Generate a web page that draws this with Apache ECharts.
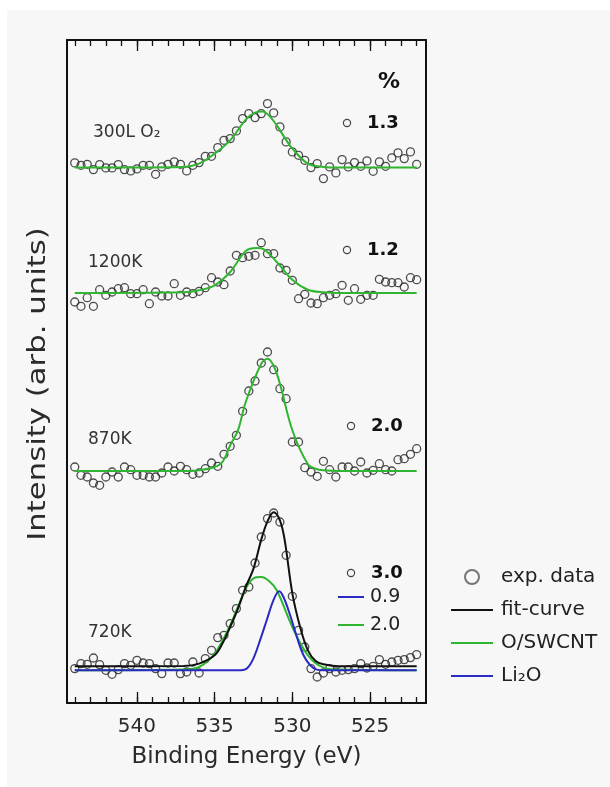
<!DOCTYPE html>
<html>
<head>
<meta charset="utf-8">
<script src="https://cdn.jsdelivr.net/npm/echarts@6.0.0/dist/echarts.min.js"></script>
<style>
  html, body { margin: 0; padding: 0; background: #fff; overflow: hidden; }
  #panel { position: fixed; left: 7px; top: 10px; right: -50px; bottom: -50px; background: #f7f7f7; }
  #chart { position: absolute; left: 0; top: 0; width: 610px; height: 787px; }
</style>
</head>
<body>
<div id="panel"></div>
<div id="chart"></div>
<script>
// binding energy of each measured point (eV)
const energies = [544.0, 543.6, 543.2, 542.8, 542.4, 542.0, 541.6, 541.2, 540.8, 540.4,
  540.0, 539.6, 539.2, 538.8, 538.4, 538.0, 537.6, 537.2, 536.8, 536.4,
  536.0, 535.6, 535.2, 534.8, 534.4, 534.0, 533.6, 533.2, 532.8, 532.4,
  532.0, 531.6, 531.2, 530.8, 530.4, 530.0, 529.6, 529.2, 528.8, 528.4,
  528.0, 527.6, 527.2, 526.8, 526.4, 526.0, 525.6, 525.2, 524.8, 524.4,
  524.0, 523.6, 523.2, 522.8, 522.4, 522.0];

// measured intensities, relative to each spectrum's baseline
const exp300L = [4.7, 2.3, 3.3, -2, 3, -0.3, -0.3, 3, -2, -3.3,
  -1.3, 2.3, 2.3, -6.7, 0.7, 3.3, 5.7, 3.3, -3.3, 2.3,
  5, 11.3, 11.3, 20, 27.3, 29, 36.7, 49, 54, 50,
  54, 64, 54.7, 40.7, 25.7, 15.7, 12.3, 7.3, 0, 4,
  -11, 0.7, -5.3, 8, 0.7, 5, 1.3, 6.7, -3.7, 5.7,
  1.3, 9.7, 14.7, 9, 15.7, 3.3];
const exp1200K = [-9, -13.3, -4.7, -13.3, 3.3, -2.3, 1, 4.3, 5.3, -0.7,
  -0.7, 3.3, -10.7, 1, -3, -3, 9.3, -2.3, 1, -0.7,
  1.7, 5.3, 15.3, 11, 8.3, 22, 37.7, 35.3, 36.7, 37.7,
  50.3, 39.3, 39.3, 25, 22.7, 12.7, -5.7, -1.3, -10, -10.7,
  -4.7, -2.3, -0.7, 7.7, -7.3, 4.3, -6.3, -2.3, -2.3, 13.7,
  11, 10.3, 10.3, 6, 15.3, 13.3];
const exp870K = [4, -4.3, -6, -12, -14.3, -6, -1, -6, 4, 1.3,
  -4.3, -4.3, -6, -6, -2, 4, 0, 4.7, 1.3, -3.3,
  -2, 2.3, 8, 4.7, 16.7, 24.7, 35.7, 59.7, 80, 90,
  108, 119, 101.3, 82.3, 72.3, 29, 29, 3.3, -1, -5.3,
  9.7, 1.3, -6, 4, 4, 0, 9, -2, 0.7, 7.3,
  1.3, 0, 11.3, 12.3, 16.7, 22.3];
const exp720K = [-2.3, 2.7, 2, 8.3, 1.7, -4, -8, -3.3, 2.7, 1,
  6, 3.3, 2.7, -2.3, -7.3, 3.3, 3.3, -7.3, -5.7, 4.3,
  -6.7, 7.7, 16, 28.7, 31, 42.7, 57.7, 76, 79.3, 103.3,
  129.3, 147.7, 153.3, 144.3, 111, 70, 36, 19.3, -2.3, -10.7,
  -6.7, -2.3, -5.7, -4, -3.3, -2.3, 2.7, -1.7, 0, 6.7,
  2, 4.3, 6, 6.7, 8.7, 11.7];

// fitted curves: [eV, intensity]
const fit300L = [[544, 0], [537, 0.7], [536, 4], [535, 14], [534, 27.3], [533, 48], [532.4, 55],
  [531.9, 56], [531.5, 52], [531, 42.3], [530.5, 30], [530, 19], [529, 4], [528, 0.7], [527, 0], [522, 0]];
const fit1200K = [[544, 0], [537, 0.7], [536, 2.7], [535, 7.7], [534, 21], [533, 42], [532.3, 45],
  [532, 44.7], [531, 31], [530, 13.3], [529, 3.3], [528, 0.7], [527, 0], [522, 0]];
const fit870K = [[544, 0], [536.5, 0], [536, 0.7], [535, 4], [534.5, 9], [534, 25.7], [533.5, 40.7],
  [533, 69], [532, 107.3], [531.6, 112.3], [531, 97.3], [530, 40.7], [529, 6.7], [528.5, 2.3],
  [528, 0.7], [527, 0], [522, 0]];
const fit720K = [[544, 0], [537, 0.3], [536, 2.7], [535, 11], [534.5, 22.7], [534, 39.3], [533.5, 57.7],
  [533, 79.3], [532.5, 97.7], [532, 126.7], [531.6, 145], [531.2, 154], [530.8, 146], [530.5, 127],
  [530, 73], [529.5, 39.3], [529, 16], [528.5, 5.3], [528, 2], [527, 0], [522, 0]];
const swcnt720K = [[544, -4], [537, -3.3], [536, -0.7], [535, 12.7], [534, 41], [533, 77.7], [532.5, 88],
  [532, 89.3], [531.5, 85.3], [531, 76], [530, 39.3], [529, 11], [528, -1.3], [527, -3.3], [522, -4]];
const li2o720K = [[544, -4], [533.5, -4], [532.94, -2.3], [532.51, 7.7], [532.08, 26], [531.65, 46],
  [531.22, 66], [530.85, 75], [530.57, 69.3], [530.14, 51], [529.71, 29.3], [529.28, 11],
  [528.85, 1], [528.42, -3.3], [528, -4], [522, -4]];

// vertical offset of each spectrum in the stack
const baselines = [535.4, 410, 232, 36.7];
const spectrumNames = ['300L O₂', '1200K', '870K', '720K'];
const totalPercent = ['1.3', '1.2', '2.0', '3.0'];
const componentPercent = ['0.9', '2.0'];   // Li2O, O/SWCNT at 720K

const majorTicks = [540, 535, 530, 525];
const minorTicks = [544, 543, 542, 541, 540, 539, 538, 537, 536, 535, 534, 533,
  532, 531, 530, 529, 528, 527, 526, 525, 524, 523, 522];

const GREEN = '#2fb52f';
const BLUE = '#2a2ac4';
const BLACK = '#111';
const FONT = '"DejaVu Sans", Verdana, sans-serif';

const chart = echarts.init(document.getElementById('chart'));

const shift = (pairs, off) => pairs.map(p => [p[0], p[1] + off]);
const scatterOf = (vals, off) => energies.map((e, i) => [e, vals[i] + off]);

const expSets = [exp300L, exp1200K, exp870K, exp720K];
const greenFits = [fit300L, fit1200K, fit870K];

const series = [];
expSets.forEach((vals, k) => {
  series.push({
    name: 'exp. data', type: 'scatter', symbol: 'circle', symbolSize: 8,
    itemStyle: { color: 'rgba(0,0,0,0)', borderColor: '#222', borderWidth: 1.3 },
    data: scatterOf(vals, baselines[k]), z: 3
  });
});
greenFits.forEach((fit, k) => {
  series.push({
    name: 'O/SWCNT', type: 'line', symbol: 'none', smooth: 0.35,
    lineStyle: { color: GREEN, width: 2 }, itemStyle: { color: GREEN },
    data: shift(fit, baselines[k]), z: 4
  });
});
series.push({
  name: 'O/SWCNT', type: 'line', symbol: 'none', smooth: 0.35,
  lineStyle: { color: GREEN, width: 2 }, itemStyle: { color: GREEN },
  data: shift(swcnt720K, baselines[3]), z: 4
});
series.push({
  name: 'Li₂O', type: 'line', symbol: 'none', smooth: 0.35,
  lineStyle: { color: BLUE, width: 2 }, itemStyle: { color: BLUE },
  data: shift(li2o720K, baselines[3]), z: 4
});
series.push({
  name: 'fit-curve', type: 'line', symbol: 'none', smooth: 0.35,
  lineStyle: { color: BLACK, width: 2 }, itemStyle: { color: BLACK },
  data: shift(fit720K, baselines[3]), z: 5
});

// x axes: bottom/top, major and minor ticks
function xAxisOf(pos, ticks, len, showLine, labels, name) {
  return {
    type: 'value', position: pos, inverse: true, min: 521.4, max: 544.5,
    axisLine: { show: showLine, onZero: false, lineStyle: { color: '#111', width: 2 } },
    axisTick: { show: true, inside: true, length: len, customValues: ticks,
      lineStyle: { color: '#111', width: 1.3 } },
    axisLabel: labels ? { customValues: ticks, fontSize: 20, color: '#2a2a2a', margin: 14, fontFamily: FONT }
      : { show: false },
    splitLine: { show: false },
    name: name || '', nameLocation: 'middle', nameGap: 43,
    nameTextStyle: { fontSize: 23, color: '#2a2a2a', fontFamily: FONT }
  };
}
function yAxisOf(pos) {
  return {
    type: 'value', position: pos, min: 0, max: 663,
    axisLine: { show: true, onZero: false, lineStyle: { color: '#111', width: 2 } },
    axisTick: { show: false }, axisLabel: { show: false }, splitLine: { show: false }
  };
}

const graphic = [];
// y axis title (stretched like the original)
graphic.push({
  type: 'text', x: 39, y: 384, rotation: Math.PI / 2, scaleX: 1.28,
  style: { text: 'Intensity (arb. units)', fontSize: 24, fill: '#2a2a2a', fontFamily: FONT,
    align: 'center', verticalAlign: 'middle' }
});
// spectrum names
const nameY = [133, 263, 440, 633];
spectrumNames.forEach((t, k) => {
  graphic.push({ type: 'text', x: k === 0 ? 93 : 88, y: nameY[k],
    style: { text: t, fontSize: 17, fill: '#333', fontFamily: FONT, verticalAlign: 'middle' } });
});
// percentages
graphic.push({ type: 'text', x: 389, y: 82,
  style: { text: '%', fontSize: 22, fontWeight: 'bold', fill: '#111', fontFamily: FONT,
    align: 'center', verticalAlign: 'middle' } });
const pctPos = [[347, 123], [347, 250], [351, 426], [351, 573]];
totalPercent.forEach((t, k) => {
  const p = pctPos[k];
  graphic.push({ type: 'circle', shape: { cx: p[0], cy: p[1], r: 3.6 },
    style: { fill: 'none', stroke: '#444', lineWidth: 1.2 } });
  graphic.push({ type: 'text', x: p[0] + 20, y: p[1],
    style: { text: t, fontSize: 18, fontWeight: 'bold', fill: '#111', fontFamily: FONT, verticalAlign: 'middle' } });
});
const compY = [597, 625];
const compColor = [BLUE, GREEN];
componentPercent.forEach((t, k) => {
  graphic.push({ type: 'line', shape: { x1: 338, y1: compY[k], x2: 364, y2: compY[k] },
    style: { stroke: compColor[k], lineWidth: 2 } });
  graphic.push({ type: 'text', x: 370, y: compY[k],
    style: { text: t, fontSize: 19, fill: '#222', fontFamily: FONT, verticalAlign: 'middle' } });
});

chart.setOption({
  animation: false,
  textStyle: { fontFamily: FONT },
  grid: { left: 67, right: 184, top: 40, bottom: 84 },
  xAxis: [
    xAxisOf('bottom', majorTicks, 11, true, true, 'Binding Energy (eV)'),
    xAxisOf('bottom', minorTicks, 6, false, false),
    xAxisOf('top', majorTicks, 11, true, false),
    xAxisOf('top', minorTicks, 6, false, false)
  ],
  yAxis: [yAxisOf('left'), yAxisOf('right')],
  legend: {
    orient: 'vertical', left: 450, top: 567, padding: 0,
    itemWidth: 42, itemHeight: 14, itemGap: 13,
    textStyle: { fontSize: 20, color: '#222', fontFamily: FONT, padding: [0, 0, 0, 3] },
    data: [
      { name: 'exp. data', itemStyle: { borderColor: '#555' } },
      { name: 'fit-curve', itemStyle: { opacity: 0 } },
      { name: 'O/SWCNT', itemStyle: { opacity: 0 } },
      { name: 'Li₂O', itemStyle: { opacity: 0 } }
    ]
  },
  graphic: graphic,
  series: series
});
</script>
</body>
</html>
